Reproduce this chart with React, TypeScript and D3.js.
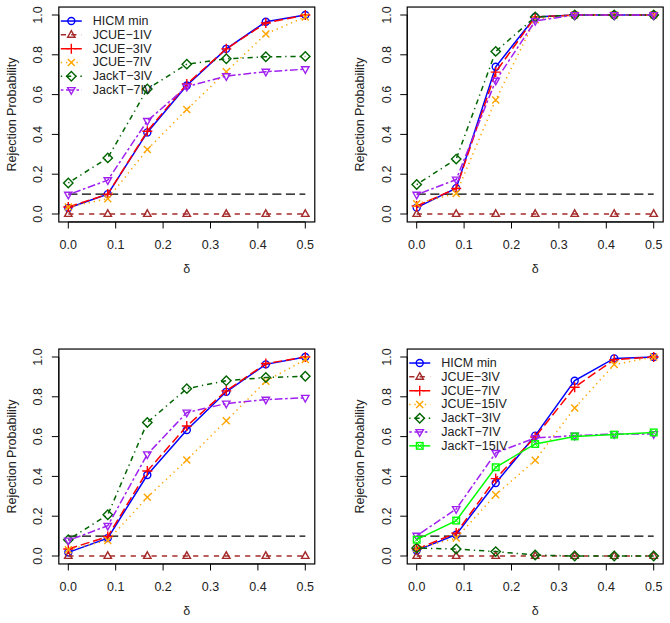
import * as d3 from "d3";

// x values (delta grid)
const deltas = [0, 0.0833, 0.1667, 0.25, 0.3333, 0.4167, 0.5];
const xTicks = [0, 0.1, 0.2, 0.3, 0.4, 0.5];
const yTicks = [0, 0.2, 0.4, 0.6, 0.8, 1.0];

const namesA = ["HICM min", "JCUE\u22121IV", "JCUE\u22123IV", "JCUE\u22127IV", "JackT\u22123IV", "JackT\u22127IV"];
const namesB = ["HICM min", "JCUE\u22123IV", "JCUE\u22127IV", "JCUE\u221215IV", "JackT\u22123IV", "JackT\u22127IV", "JackT\u221215IV"];

// panel 1 (top left)
const p1 = [
  [0.03, 0.1, 0.41, 0.646, 0.83, 0.966, 1.0],
  [0, 0, 0, 0, 0, 0, 0],
  [0.035, 0.1, 0.416, 0.653, 0.83, 0.96, 1.0],
  [0.035, 0.077, 0.324, 0.525, 0.715, 0.905, 0.99],
  [0.156, 0.282, 0.628, 0.753, 0.78, 0.79, 0.792],
  [0.097, 0.17, 0.468, 0.64, 0.693, 0.715, 0.728],
];
// panel 2 (top right)
const p2 = [
  [0.032, 0.13, 0.74, 0.99, 1.0, 1.0, 1.0],
  [0, 0, 0, 0, 0, 0, 0],
  [0.04, 0.128, 0.713, 0.99, 1.0, 1.0, 1.0],
  [0.052, 0.103, 0.573, 0.976, 1.0, 1.0, 1.0],
  [0.148, 0.276, 0.817, 0.99, 1.0, 1.0, 1.0],
  [0.097, 0.173, 0.67, 0.97, 1.0, 1.0, 1.0],
];
// panel 3 (bottom left)
const p3 = [
  [0.018, 0.09, 0.407, 0.633, 0.825, 0.963, 1.0],
  [0, 0, 0, 0, 0, 0, 0],
  [0.035, 0.098, 0.427, 0.653, 0.83, 0.967, 1.0],
  [0.032, 0.078, 0.295, 0.482, 0.68, 0.878, 0.987],
  [0.082, 0.207, 0.671, 0.841, 0.881, 0.897, 0.903],
  [0.078, 0.152, 0.511, 0.721, 0.766, 0.786, 0.795],
];
// panel 4 (bottom right)
const p4 = [
  [0.028, 0.107, 0.367, 0.605, 0.881, 0.993, 1.0],
  [0, 0, 0, 0, 0, 0, 0],
  [0.035, 0.115, 0.389, 0.598, 0.848, 0.987, 1.0],
  [0.038, 0.09, 0.308, 0.481, 0.744, 0.962, 1.0],
  [0.04, 0.035, 0.022, 0.005, 0, 0, 0],
  [0.102, 0.236, 0.518, 0.593, 0.605, 0.613, 0.613],
  [0.082, 0.178, 0.446, 0.563, 0.601, 0.61, 0.621],
];

const refLevel = 0.1;

const styles = [
  { color: "#0000FF", dash: "none", pch: 1 },
  { color: "#A52A2A", dash: "5.2,5.2", pch: 2 },
  { color: "#FF0000", dash: "9.1,3.9", pch: 3 },
  { color: "#FFA500", dash: "1.3,3.9", pch: 4 },
  { color: "#006400", dash: "1.3,3.9,5.2,3.9", pch: 5 },
  { color: "#A020F0", dash: "2.6,2.6,7.8,2.6", pch: 6 },
  { color: "#00FF00", dash: "none", pch: 7 },
];

const font = "'Liberation Sans', Arial, Helvetica, sans-serif";

function Symbol({ x, y, pch, color }) {
  const p = { fill: "none", stroke: color, strokeWidth: 1.4 };
  if (pch === 1) return <circle cx={x} cy={y} r={3.5} {...p} />;
  if (pch === 2) return <path d={`M${x},${y - 4.2}L${x + 3.7},${y + 2.4}L${x - 3.7},${y + 2.4}Z`} {...p} />;
  if (pch === 3) return <path d={`M${x - 5},${y}H${x + 5}M${x},${y - 5}V${y + 5}`} {...p} />;
  if (pch === 4) return <path d={`M${x - 3.5},${y - 3.5}L${x + 3.5},${y + 3.5}M${x - 3.5},${y + 3.5}L${x + 3.5},${y - 3.5}`} {...p} />;
  if (pch === 5) return <path d={`M${x},${y - 4.7}L${x + 4.7},${y}L${x},${y + 4.7}L${x - 4.7},${y}Z`} {...p} />;
  if (pch === 6) return <path d={`M${x},${y + 4.2}L${x + 3.7},${y - 2.4}L${x - 3.7},${y - 2.4}Z`} {...p} />;
  return (
    <g>
      <rect x={x - 3.3} y={y - 3.3} width={6.6} height={6.6} {...p} />
      <path d={`M${x - 3.3},${y - 3.3}L${x + 3.3},${y + 3.3}M${x - 3.3},${y + 3.3}L${x + 3.3},${y - 3.3}`} {...p} strokeWidth={1} />
    </g>
  );
}

function Panel({ x0, y0, data, names, legend }) {
  const x = d3.scaleLinear().domain([0, 0.5]).range([x0, x0 + 237]);
  const y = d3.scaleLinear().domain([0, 1]).range([y0, y0 - 199]);
  const [bx0, bx1] = [x(-0.02), x(0.52)];
  const [by0, by1] = [y(1.04), y(-0.04)];
  const line = d3.line<number>().x((_, i) => x(deltas[i])).y((d) => y(d));
  return (
    <g fontFamily={font}>
      <line x1={x(0)} x2={x(0.5)} y1={y(refLevel)} y2={y(refLevel)}
        stroke="#000" strokeWidth={1.4} strokeDasharray="9.1,4.5" />
      {data.map((s, k) => (
        <g key={k}>
          <path d={line(s)} fill="none" stroke={styles[k].color} strokeWidth={1.5}
            strokeDasharray={styles[k].dash} />
          {s.map((v, i) => (
            <Symbol key={i} x={x(deltas[i])} y={y(v)} pch={styles[k].pch} color={styles[k].color} />
          ))}
        </g>
      ))}
      <rect x={bx0} y={by0} width={bx1 - bx0} height={by1 - by0} fill="none" stroke="#000" strokeWidth={1.2} />
      {/* x axis */}
      <line x1={x(0)} x2={x(0.5)} y1={by1} y2={by1} stroke="#000" />
      {xTicks.map((t) => (
        <g key={t}>
          <line x1={x(t)} x2={x(t)} y1={by1} y2={by1 + 6.5} stroke="#000" />
          <text x={x(t)} y={by1 + 23} textAnchor="middle" dominantBaseline="central" fontSize={12.5} fill="#222">
            {t.toFixed(1)}
          </text>
        </g>
      ))}
      <text x={(bx0 + bx1) / 2} y={by1 + 47} textAnchor="middle" dominantBaseline="central" fontSize={12.5} fill="#222">
        δ
      </text>
      {/* y axis */}
      <line x1={bx0} x2={bx0} y1={y(0)} y2={y(1)} stroke="#000" />
      {yTicks.map((t) => (
        <g key={t}>
          <line x1={bx0} x2={bx0 - 7} y1={y(t)} y2={y(t)} stroke="#000" />
          <text transform={`translate(${bx0 - 20.5},${y(t)}) rotate(-90)`} textAnchor="middle"
            dominantBaseline="central" fontSize={12.5} fill="#222">
            {t.toFixed(1)}
          </text>
        </g>
      ))}
      <text transform={`translate(${bx0 - 47},${(by0 + by1) / 2}) rotate(-90)`} textAnchor="middle"
        dominantBaseline="central" fontSize={12.5} fill="#222">
        Rejection Probability
      </text>
      {legend &&
        names.map((n, k) => {
          const ly = by0 + 14 + k * 13.8;
          return (
            <g key={n}>
              <line x1={bx0 + 2} x2={bx0 + 23} y1={ly} y2={ly} stroke={styles[k].color} strokeWidth={1.5}
                strokeDasharray={styles[k].dash} />
              <Symbol x={bx0 + 12.5} y={ly} pch={styles[k].pch} color={styles[k].color} />
              <text x={bx0 + 34} y={ly} dominantBaseline="central" fontSize={12.5} fill="#222">
                {n}
              </text>
            </g>
          );
        })}
    </g>
  );
}

export default function App() {
  return (
    <svg width={670} height={623} style={{ position: "absolute", left: 0, top: 0, background: "#fff" }}>
      <rect width={670} height={623} fill="#fff" />
      <Panel x0={68.3} y0={214} data={p1} names={namesA} legend />
      <Panel x0={416.7} y0={214} data={p2} names={namesA} legend={false} />
      <Panel x0={68.3} y0={556} data={p3} names={namesA} legend={false} />
      <Panel x0={416.7} y0={556} data={p4} names={namesB} legend />
    </svg>
  );
}
